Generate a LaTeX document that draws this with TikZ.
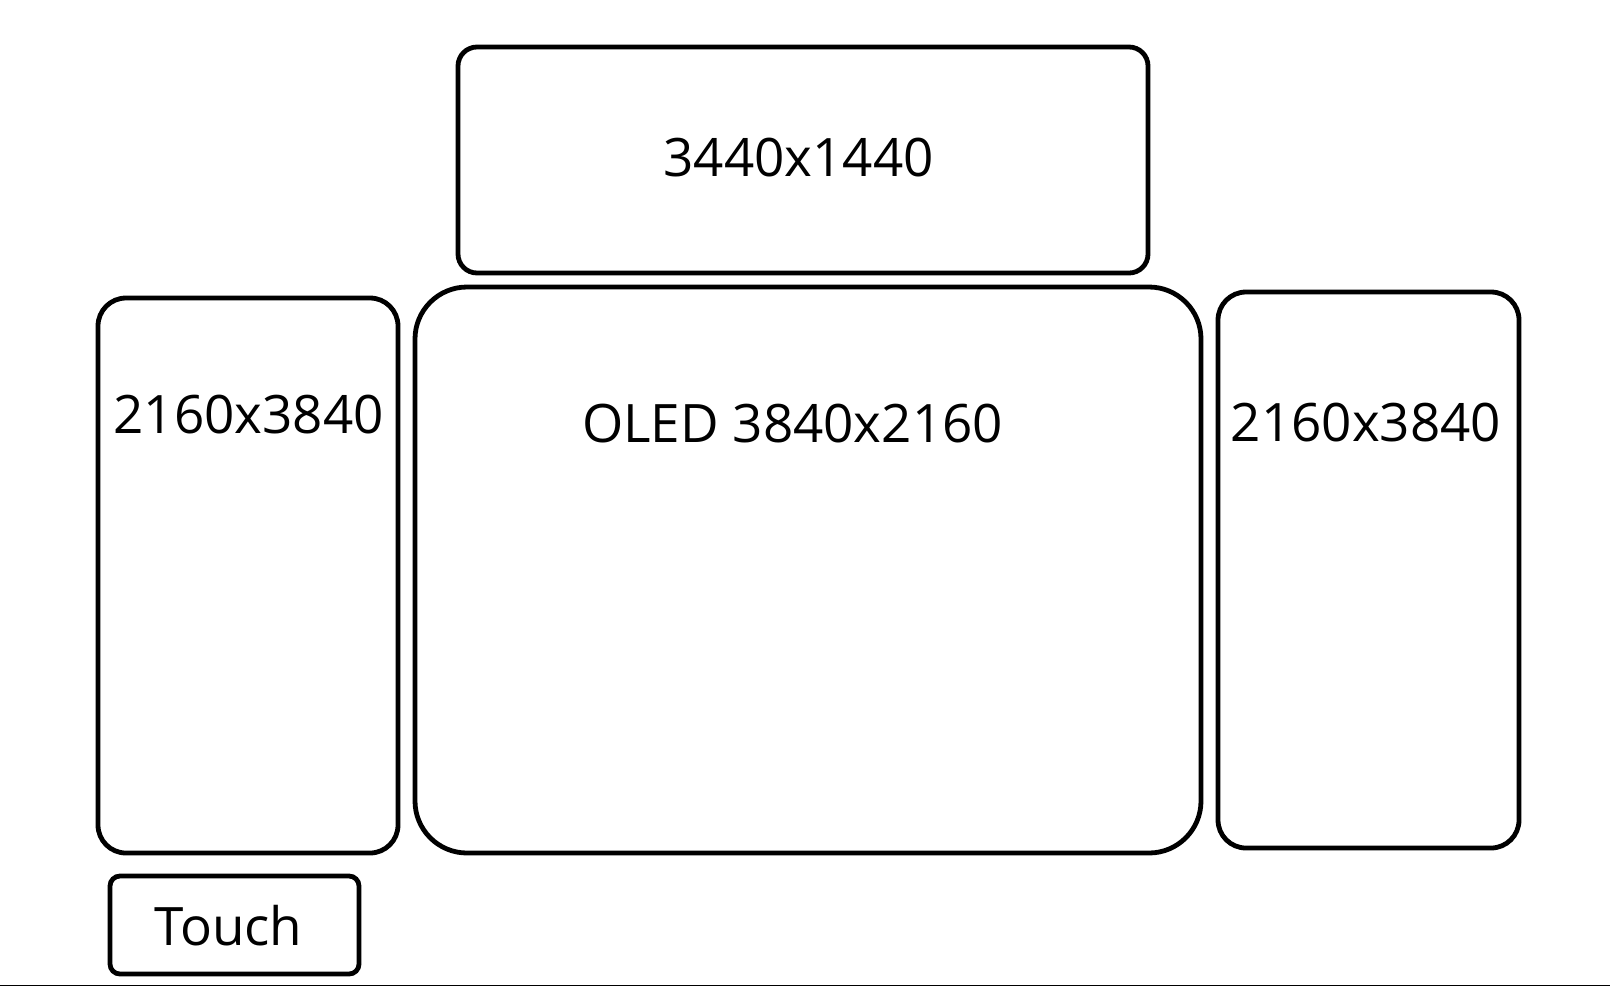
\documentclass[tikz,border=0pt]{standalone}
\usepackage{fontspec}
\setmainfont{Open Sans}
\usetikzlibrary{positioning}

\begin{document}
\begin{tikzpicture}[
  x=0.5pt, y=-0.5pt,
  screen/.style={draw=black, line width=2.4pt, fill=white, inner sep=0pt},
  screen_lbl/.style={inner sep=0pt, font=\fontsize{26.5}{30}\selectfont, text=black}
]
  \useasboundingbox (0,0) rectangle (1610,987);

  %% top ultrawide
  \node[screen, rounded corners=9.5pt, minimum width=345pt, minimum height=113pt] (top) at (803,160) {};
  \node[screen_lbl] (toplbl) at (798.5,157.5) {3440x1440};

  %% main OLED
  \node[screen, rounded corners=26pt, minimum width=393pt, minimum height=283pt] (oled) at (808,570) {};
  \node[screen_lbl] (oledlbl) at (792.5,424) {OLED 3840x2160};

  %% portrait screens
  \node[screen, rounded corners=14pt, minimum width=150pt, minimum height=277.5pt] (left) at (248,575.5) {};
  \node[screen_lbl] (leftlbl) at (248.5,415) {2160x3840};
  \node[screen, rounded corners=14pt, minimum width=150.5pt, minimum height=278pt] (right) at (1368.5,570) {};
  \node[screen_lbl] (rightlbl) at (1366,423) {2160x3840};

  %% touch panel
  \node[screen, rounded corners=5pt, minimum width=124.5pt, minimum height=49pt] (touch) at (234.5,925) {};
  \node[screen_lbl] (touchlbl) at (228.5,926) {Touch};

  %% bottom edge
  \coordinate (edgeL) at (0,985.5);
  \coordinate (edgeR) at (1610,985.5);
  \draw[line width=0.9pt] (edgeL) -- (edgeR);
\end{tikzpicture}
\end{document}
